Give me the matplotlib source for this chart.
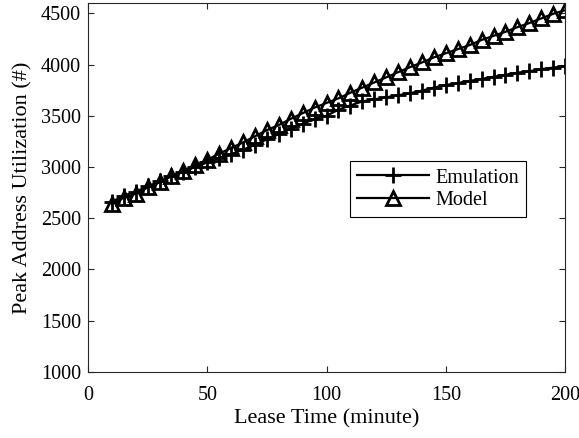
import numpy as np
import matplotlib.pyplot as plt

plt.rcParams['font.family'] = ['Liberation Serif', 'DejaVu Serif']
plt.rcParams['mathtext.fontset'] = 'stix'

# Lease time (minutes) and peak address utilization for both curves
lease_time = list(range(10, 205, 5))
emulation = [2660, 2720, 2760, 2810, 2860, 2910, 2955, 3000, 3045, 3090,
             3125, 3170, 3215, 3270, 3320, 3375, 3420, 3470, 3500, 3560,
             3600, 3640, 3660, 3680, 3700, 3720, 3745, 3775, 3800, 3820,
             3840, 3860, 3880, 3900, 3920, 3935, 3955, 3970, 3985]
model = [2640, 2700, 2740, 2800, 2850, 2910, 2965, 3015, 3070, 3130,
         3185, 3240, 3300, 3360, 3410, 3470, 3525, 3580, 3625, 3670,
         3725, 3775, 3825, 3875, 3925, 3975, 4020, 4070, 4110, 4150,
         4190, 4240, 4280, 4320, 4365, 4405, 4450, 4495, 4530]

fig = plt.figure(figsize=(5.79, 4.38), dpi=100)
ax = fig.add_axes([0.152, 0.151, 0.824, 0.842])

ax.plot(lease_time, emulation, color='black', linewidth=1.6, marker='+',
        markersize=12, markeredgewidth=2.0, label='Emulation')
ax.plot(lease_time, model, color='black', linewidth=1.6, marker='^',
        markersize=10, markeredgewidth=2.0, markerfacecolor='none', label='Model')

ax.set_xlim(0, 200)
ax.set_ylim(1000, 4600)
ax.set_xticks([0, 50, 100, 150, 200])
ax.set_yticks(np.arange(1000, 4501, 500))
ax.tick_params(direction='in', length=4, width=0.8, top=True, right=True,
               labelsize=14.5, colors='#262626', labelcolor='black')
ax.tick_params(axis='x', pad=10)
ax.tick_params(axis='y', pad=5)
for sp in ax.spines.values():
    sp.set_color('#262626')
    sp.set_linewidth(0.8)

ax.set_xlabel('Lease Time (minute)', fontsize=16, labelpad=3)
ax.set_ylabel('Peak Address Utilization (#)', fontsize=16, labelpad=6)

leg = ax.legend(loc='upper left', bbox_to_anchor=(0.527, 0.598), fontsize=14.5,
                handlelength=3.6, fancybox=False, framealpha=1,
                edgecolor='black', borderpad=0.35, labelspacing=0.15,
                handletextpad=0.3)
leg.get_frame().set_linewidth(0.8)

fig.savefig('out.png', dpi=100)
